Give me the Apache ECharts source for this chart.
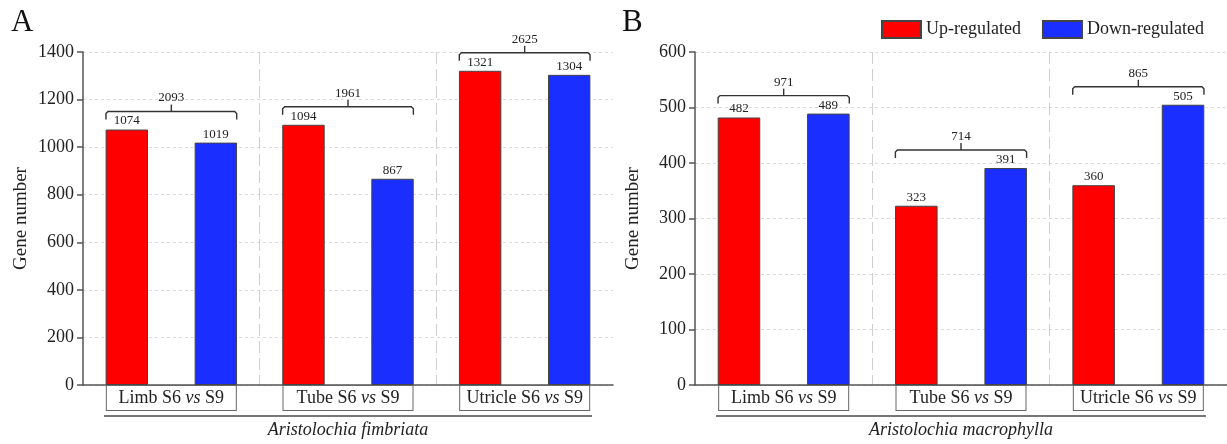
<!DOCTYPE html>
<html>
<head>
<meta charset="utf-8">
<script src="https://cdn.jsdelivr.net/npm/echarts@6/dist/echarts.min.js"></script>
<style>
html, body { margin: 0; padding: 0; background: #fff; }
#chart { width: 1227px; height: 444px; }
</style>
</head>
<body>
<div id="chart"></div>
<script>
const categories = ['Limb', 'Tube', 'Utricle'];
const upA = [1074, 1094, 1321];
const downA = [1019, 867, 1304];
const totalA = [2093, 1961, 2625];
const upB = [482, 323, 360];
const downB = [489, 391, 505];
const totalB = [971, 714, 865];
const speciesA = 'Aristolochia fimbriata';
const speciesB = 'Aristolochia macrophylla';

const FONT = '"Liberation Serif", "Times New Roman", serif';
const RED = '#ff0000';
const BLUE = '#1a2eff';
const INK = '#222';
const NONE = 'rgba(0,0,0,0)';

const chart = echarts.init(document.getElementById('chart'));

function bracketItem(params, api) {
    const i = api.value(0);
    const top = api.coord([i, api.value(1)]);
    const w = api.size([1, 0])[0];
    const h = w * 0.37;
    const cx = top[0];
    const y = top[1] - 18;
    const line = { stroke: '#333', lineWidth: 1.4, fill: null };
    return {
        type: 'group',
        children: [
            { type: 'polyline', shape: { points: [[cx - h, y + 8], [cx - h, y + 2], [cx - h + 2, y], [cx + h - 2, y], [cx + h, y + 2], [cx + h, y + 8]] }, style: line },
            { type: 'line', shape: { x1: cx, y1: y, x2: cx, y2: y - 7 }, style: line },
            {
                type: 'text', x: cx, y: y - 7,
                style: { text: String(api.value(2)), fontSize: 13, fontFamily: FONT, fill: INK, align: 'center', verticalAlign: 'bottom' }
            }
        ]
    };
}

function xAxisFor(gridIndex, species) {
    return {
        type: 'category',
        gridIndex: gridIndex,
        data: categories,
        axisLine: { lineStyle: { color: '#555', width: 1.5 } },
        axisTick: { show: false },
        // only the two inner separators are visible
        splitLine: { show: true, lineStyle: { color: [NONE, '#cfcfcf', '#cfcfcf', NONE], type: [12, 5], width: 1 } },
        axisLabel: {
            margin: 1,
            formatter: v => `{n|${v} S6 }{i|vs}{n| S9}`,
            width: 121,
            padding: [2, 4, 2, 4],
            borderColor: '#666',
            borderWidth: 1,
            backgroundColor: '#fff',
            rich: {
                n: { fontFamily: FONT, fontSize: 18, color: INK, lineHeight: 20 },
                i: { fontFamily: FONT, fontSize: 18, color: INK, fontStyle: 'italic', lineHeight: 20 }
            }
        },
        name: species,
        nameLocation: 'middle',
        nameGap: 36,
        nameTextStyle: { fontFamily: FONT, fontSize: 18, fontStyle: 'italic', color: INK }
    };
}

function yAxisFor(gridIndex, max, step) {
    return {
        type: 'value',
        gridIndex: gridIndex,
        min: 0,
        max: max,
        interval: step,
        name: 'Gene number',
        nameLocation: 'middle',
        nameGap: 52,
        nameTextStyle: { fontFamily: FONT, fontSize: 19, color: INK },
        axisLine: { show: true, lineStyle: { color: '#555', width: 1.5 } },
        axisTick: { show: true, length: 6, lineStyle: { color: '#555', width: 1.5 } },
        axisLabel: { margin: 9, fontFamily: FONT, fontSize: 18, color: INK, formatter: v => String(v) },
        splitLine: { show: true, lineStyle: { color: '#dcdcdc', type: [3, 3] } }
    };
}

function barSeries(name, color, data, idx) {
    return {
        name: name,
        type: 'bar',
        xAxisIndex: idx,
        yAxisIndex: idx,
        data: data,
        barWidth: '24%',
        barGap: '110%',
        itemStyle: { color: color, borderColor: '#444', borderWidth: 1 },
        label: { show: true, position: 'top', distance: 2, fontFamily: FONT, fontSize: 13, color: INK }
    };
}

function bracketSeries(up, down, total, idx) {
    return {
        type: 'custom',
        xAxisIndex: idx,
        yAxisIndex: idx,
        renderItem: bracketItem,
        encode: { x: 0, y: 1 },
        data: categories.map((c, i) => [i, Math.max(up[i], down[i]), total[i]]),
        z: 5
    };
}

chart.setOption({
    backgroundColor: '#fff',
    animation: false,
    title: [
        { text: 'A', left: 11, top: 7, padding: 0, textStyle: { fontFamily: FONT, fontSize: 31, fontWeight: 'normal', color: '#111' } },
        { text: 'B', left: 622, top: 7, padding: 0, textStyle: { fontFamily: FONT, fontSize: 31, fontWeight: 'normal', color: '#111' } }
    ],
    legend: {
        data: ['Up-regulated', 'Down-regulated'],
        left: 881,
        top: 20,
        padding: 0,
        itemWidth: 39,
        itemHeight: 17,
        itemGap: 21,
        icon: 'rect',
        textStyle: { fontFamily: FONT, fontSize: 18, color: INK }
    },
    grid: [
        { left: 83, top: 52, width: 530, height: 335 },
        { left: 695, top: 52, width: 534, height: 334 }
    ],
    xAxis: [xAxisFor(0, speciesA), xAxisFor(1, speciesB)],
    yAxis: [yAxisFor(0, 1400, 200), yAxisFor(1, 600, 100)],
    series: [
        barSeries('Up-regulated', RED, upA, 0),
        barSeries('Down-regulated', BLUE, downA, 0),
        bracketSeries(upA, downA, totalA, 0),
        barSeries('Up-regulated', RED, upB, 1),
        barSeries('Down-regulated', BLUE, downB, 1),
        bracketSeries(upB, downB, totalB, 1)
    ]
});

// grey rule under the category boxes, spanning first to last box
function speciesRule(gridIndex) {
    const p0 = chart.convertToPixel({ gridIndex: gridIndex }, [0, 0]);
    const p1 = chart.convertToPixel({ gridIndex: gridIndex }, [1, 0]);
    const p2 = chart.convertToPixel({ gridIndex: gridIndex }, [2, 0]);
    const half = (p1[0] - p0[0]) * 0.37 + 2;
    return {
        type: 'line',
        shape: { x1: p0[0] - half, y1: p0[1] + 31, x2: p2[0] + half, y2: p0[1] + 31 },
        style: { stroke: '#777', lineWidth: 2 }
    };
}

chart.setOption({ graphic: [speciesRule(0), speciesRule(1)] });
</script>
</body>
</html>
